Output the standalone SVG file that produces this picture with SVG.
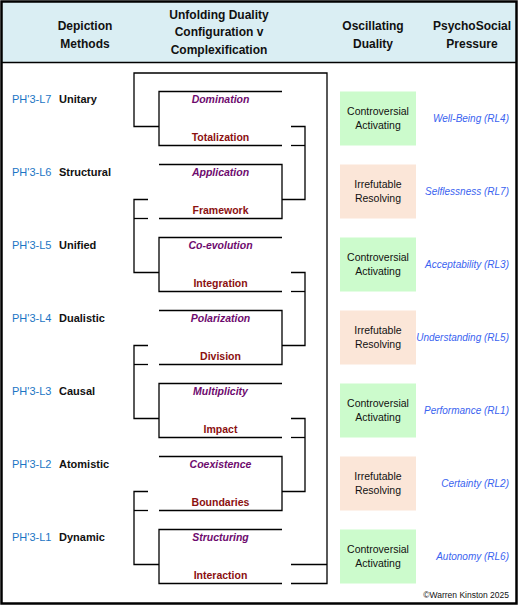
<svg xmlns="http://www.w3.org/2000/svg" width="519" height="606" viewBox="0 0 519 606">
<style>
text{font-family:"Liberation Sans",Arial,sans-serif;}
.hd{font-size:12px;font-weight:bold;fill:#111;text-anchor:middle;}
.code{font-size:11px;fill:#1b75c4;}
.meth{font-size:11px;font-weight:bold;fill:#111;}
.up{font-size:10.5px;font-weight:bold;font-style:italic;fill:#6e0a6e;text-anchor:middle;}
.lo{font-size:10.5px;font-weight:bold;fill:#8b1010;text-anchor:middle;}
.bx{font-size:10.5px;fill:#111;text-anchor:middle;}
.pr{font-size:10px;font-style:italic;fill:#3a63f0;text-anchor:end;}
.ln{fill:none;stroke:#000;stroke-width:1.3;}
.green{fill:#ccfbcc;}
.peach{fill:#fbe6d8;}
</style>
<rect x="0" y="0" width="519" height="606" fill="#fff"/>
<rect x="1.5" y="1.5" width="515" height="61" fill="#daeef3"/>
<line x1="1.5" y1="62.5" x2="516.5" y2="62.5" stroke="#000" stroke-width="1.5"/>
<rect x="1.5" y="1.5" width="515" height="602" fill="none" stroke="#000" stroke-width="2.5"/>
<g id="header">
<text class="hd" x="85" y="30">Depiction</text>
<text class="hd" x="85" y="48">Methods</text>
<text class="hd" x="219" y="19">Unfolding Duality</text>
<text class="hd" x="219" y="36">Configuration v</text>
<text class="hd" x="219" y="54">Complexification</text>
<text class="hd" x="373" y="30">Oscillating</text>
<text class="hd" x="373" y="48">Duality</text>
<text class="hd" x="472" y="30">PsychoSocial</text>
<text class="hd" x="472" y="48">Pressure</text>
</g>
<g id="connectors">
<polyline class="ln" points="159,126.5 134,126.5 134,73 327,73 327,583.5 291,583.5"/>
<line class="ln" x1="291" y1="564.5" x2="327" y2="564.5"/>
<polyline class="ln" points="291,126.5 305,126.5 305,199.5 282,199.5"/>
<line class="ln" x1="291" y1="145.5" x2="305" y2="145.5"/>
<polyline class="ln" points="148,199.5 134,199.5 134,272.5 159,272.5"/>
<line class="ln" x1="134" y1="218.5" x2="148" y2="218.5"/>
<polyline class="ln" points="291,272.5 305,272.5 305,345.5 282,345.5"/>
<line class="ln" x1="291" y1="291.5" x2="305" y2="291.5"/>
<polyline class="ln" points="148,345.5 134,345.5 134,418.5 159,418.5"/>
<line class="ln" x1="134" y1="364.5" x2="148" y2="364.5"/>
<polyline class="ln" points="291,418.5 305,418.5 305,491.5 282,491.5"/>
<line class="ln" x1="291" y1="437.5" x2="305" y2="437.5"/>
<polyline class="ln" points="148,491.5 134,491.5 134,564.5 159,564.5"/>
<line class="ln" x1="134" y1="510.5" x2="148" y2="510.5"/>
</g>
<g id="row-L7">
<text class="code" x="12" y="103">PH'3-L7</text>
<text class="meth" x="59" y="103">Unitary</text>
<path class="ln" d="M282,91.5 H159 V145.5 H282"/>
<text class="up" x="220.5" y="103">Domination</text>
<text class="lo" x="220.5" y="141">Totalization</text>
<rect class="green" x="340" y="91.5" width="76" height="54"/>
<text class="bx" x="378" y="114.5">Controversial</text>
<text class="bx" x="378" y="128.5">Activating</text>
<text class="pr" x="509" y="122">Well-Being (RL4)</text>
</g>
<g id="row-L6">
<text class="code" x="12" y="176">PH'3-L6</text>
<text class="meth" x="59" y="176">Structural</text>
<path class="ln" d="M159,164.5 H282 V218.5 H159"/>
<text class="up" x="220.5" y="176">Application</text>
<text class="lo" x="220.5" y="214">Framework</text>
<rect class="peach" x="340" y="164.5" width="76" height="54"/>
<text class="bx" x="378" y="187.5">Irrefutable</text>
<text class="bx" x="378" y="201.5">Resolving</text>
<text class="pr" x="509" y="195">Selflessness (RL7)</text>
</g>
<g id="row-L5">
<text class="code" x="12" y="249">PH'3-L5</text>
<text class="meth" x="59" y="249">Unified</text>
<path class="ln" d="M282,237.5 H159 V291.5 H282"/>
<text class="up" x="220.5" y="249">Co-evolution</text>
<text class="lo" x="220.5" y="287">Integration</text>
<rect class="green" x="340" y="237.5" width="76" height="54"/>
<text class="bx" x="378" y="260.5">Controversial</text>
<text class="bx" x="378" y="274.5">Activating</text>
<text class="pr" x="509" y="268">Acceptability (RL3)</text>
</g>
<g id="row-L4">
<text class="code" x="12" y="322">PH'3-L4</text>
<text class="meth" x="59" y="322">Dualistic</text>
<path class="ln" d="M159,310.5 H282 V364.5 H159"/>
<text class="up" x="220.5" y="322">Polarization</text>
<text class="lo" x="220.5" y="360">Division</text>
<rect class="peach" x="340" y="310.5" width="76" height="54"/>
<text class="bx" x="378" y="333.5">Irrefutable</text>
<text class="bx" x="378" y="347.5">Resolving</text>
<text class="pr" x="509" y="341">Understanding (RL5)</text>
</g>
<g id="row-L3">
<text class="code" x="12" y="395">PH'3-L3</text>
<text class="meth" x="59" y="395">Causal</text>
<path class="ln" d="M282,383.5 H159 V437.5 H282"/>
<text class="up" x="220.5" y="395">Multiplicity</text>
<text class="lo" x="220.5" y="433">Impact</text>
<rect class="green" x="340" y="383.5" width="76" height="54"/>
<text class="bx" x="378" y="406.5">Controversial</text>
<text class="bx" x="378" y="420.5">Activating</text>
<text class="pr" x="509" y="414">Performance (RL1)</text>
</g>
<g id="row-L2">
<text class="code" x="12" y="468">PH'3-L2</text>
<text class="meth" x="59" y="468">Atomistic</text>
<path class="ln" d="M159,456.5 H282 V510.5 H159"/>
<text class="up" x="220.5" y="468">Coexistence</text>
<text class="lo" x="220.5" y="506">Boundaries</text>
<rect class="peach" x="340" y="456.5" width="76" height="54"/>
<text class="bx" x="378" y="479.5">Irrefutable</text>
<text class="bx" x="378" y="493.5">Resolving</text>
<text class="pr" x="509" y="487">Certainty (RL2)</text>
</g>
<g id="row-L1">
<text class="code" x="12" y="541">PH'3-L1</text>
<text class="meth" x="59" y="541">Dynamic</text>
<path class="ln" d="M282,529.5 H159 V583.5 H282"/>
<text class="up" x="220.5" y="541">Structuring</text>
<text class="lo" x="220.5" y="579">Interaction</text>
<rect class="green" x="340" y="529.5" width="76" height="54"/>
<text class="bx" x="378" y="552.5">Controversial</text>
<text class="bx" x="378" y="566.5">Activating</text>
<text class="pr" x="509" y="560">Autonomy (RL6)</text>
</g>
<text x="509" y="598" font-size="8.5" fill="#111" text-anchor="end" font-family="Liberation Sans, Arial, sans-serif">©Warren Kinston 2025</text>
</svg>
